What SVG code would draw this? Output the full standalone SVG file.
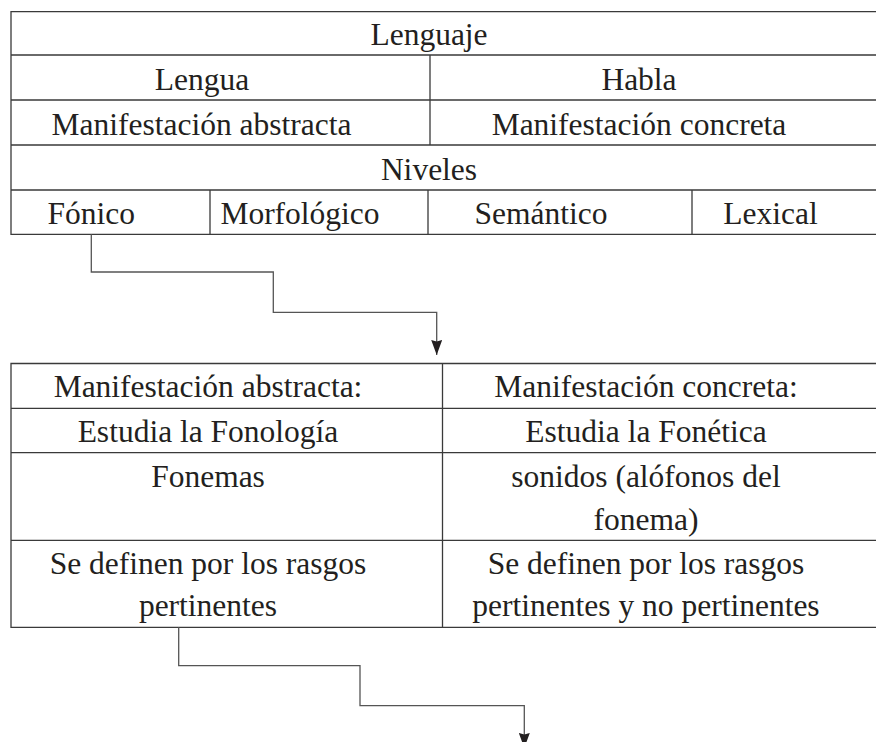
<svg xmlns="http://www.w3.org/2000/svg" width="876" height="742" viewBox="0 0 876 742">
<defs>
<style>
.t{font-family:"Liberation Serif","Times New Roman",serif;font-size:31.5px;fill:#231f20;text-anchor:middle}
.g{stroke:#3a3a3a;stroke-width:1.3;fill:none}
.c{stroke:#555;stroke-width:1.3;fill:none}
</style>
<marker id="arr" markerUnits="userSpaceOnUse" viewBox="0 0 15 11" refX="15" refY="5.5" markerWidth="15" markerHeight="11" orient="auto">
<path d="M0,0 L15,5.5 L0,11 L1.5,5.5 Z" fill="#231f20"/>
</marker>
</defs>
<rect width="876" height="742" fill="#fff"/>
<g id="tabla-lenguaje">
<path class="g" d="M880 11.7 H11 V234.3 H880 M11 55 H880 M11 100 H880 M11 145 H880 M11 190 H880 M430 55 V145 M210 190 V234.3 M428 190 V234.3 M692 190 V234.3"/>
<text class="t" x="429" y="45">Lenguaje</text>
<text class="t" x="202" y="89.5">Lengua</text>
<text class="t" x="639" y="89.5">Habla</text>
<text class="t" x="201.5" y="134.5">Manifestación abstracta</text>
<text class="t" x="639" y="134.5">Manifestación concreta</text>
<text class="t" x="429" y="179.5">Niveles</text>
<text class="t" x="91.3" y="223.5">Fónico</text>
<text class="t" x="300" y="223.5">Morfológico</text>
<text class="t" x="541" y="223.5">Semántico</text>
<text class="t" x="770.5" y="223.5">Lexical</text>
</g>
<g id="tabla-fonico">
<path class="g" d="M880 363.5 H11 V627.3 H880 M11 408.3 H880 M11 452.7 H880 M11 540.3 H880 M442.5 363.5 V627.3"/>
<text class="t" x="208" y="397">Manifestación abstracta:</text>
<text class="t" x="646" y="397">Manifestación concreta:</text>
<text class="t" x="208" y="442">Estudia la Fonología</text>
<text class="t" x="646" y="442">Estudia la Fonética</text>
<text class="t" x="208" y="487">Fonemas</text>
<text class="t" x="646" y="487">sonidos (alófonos del</text>
<text class="t" x="646" y="530">fonema)</text>
<text class="t" x="208" y="573.5">Se definen por los rasgos</text>
<text class="t" x="208" y="616">pertinentes</text>
<text class="t" x="646" y="573.5">Se definen por los rasgos</text>
<text class="t" x="646" y="616">pertinentes y no pertinentes</text>
</g>
<g id="conectores">
<path class="c" d="M91.3 234.3 V272 H273.3 V312.3 H436.7 V355" marker-end="url(#arr)"/>
<path class="c" d="M178.7 627.3 V665.7 H360 V705.7 H524.3 V748" marker-end="url(#arr)"/>
</g>
</svg>
